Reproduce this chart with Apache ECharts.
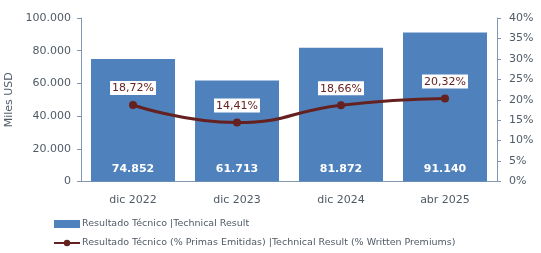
<!DOCTYPE html>
<html>
<head>
<meta charset="utf-8">
<script src="https://cdn.jsdelivr.net/npm/echarts@6/dist/echarts.min.js"></script>
<style>
html, body { margin: 0; padding: 0; background: #fff; }
#chart { width: 541px; height: 253px; }
</style>
</head>
<body>
<div id="chart"></div>
<script>
// datos
var categorias = ['dic 2022', 'dic 2023', 'dic 2024', 'abr 2025'];
var resultado = [74852, 61713, 81872, 91140];
var porcentaje = [18.72, 14.41, 18.66, 20.32];

function miles(v) {
    return String(v).replace(/\B(?=(\d{3})+(?!\d))/g, '.');
}

var fuente = 'DejaVu Sans';
var gris = '#505a66';
var ejeColor = '#8497B0';

var myChart = echarts.init(document.getElementById('chart'));
var option = {
    animation: false,
    textStyle: { fontFamily: fuente },
    grid: { left: 81, right: 44, top: 18, bottom: 71.5, outerBoundsMode: 'none' },
    legend: {
        orient: 'vertical',
        left: 53,
        top: 219,
        padding: 0,
        itemGap: 9,
        itemWidth: 26,
        itemHeight: 8,
        textStyle: { fontFamily: fuente, fontSize: 9.5, color: gris, padding: [0, 0, 0, -3] },
        data: [
            { name: 'Resultado Técnico |Technical Result', icon: 'rect' },
            { name: 'Resultado Técnico (% Primas Emitidas) |Technical Result (% Written Premiums)' }
        ]
    },
    xAxis: {
        type: 'category',
        data: categorias,
        axisLine: { lineStyle: { color: ejeColor } },
        axisTick: { show: false },
        axisLabel: { color: gris, fontSize: 11, margin: 13 }
    },
    yAxis: [{
        type: 'value',
        min: 0, max: 100000, interval: 20000,
        name: 'Miles USD',
        nameLocation: 'middle',
        nameGap: 59,
        nameTextStyle: { color: gris, fontSize: 11 },
        axisLine: { show: true, lineStyle: { color: ejeColor } },
        axisTick: { show: true, length: 4, lineStyle: { color: ejeColor } },
        splitLine: { show: false },
        axisLabel: { color: gris, fontSize: 11, margin: 10, formatter: function (v) { return miles(v); } }
    }, {
        type: 'value',
        min: 0, max: 40, interval: 5,
        axisLine: { show: true, lineStyle: { color: ejeColor } },
        axisTick: { show: true, length: 4, lineStyle: { color: ejeColor } },
        splitLine: { show: false },
        axisLabel: { color: gris, fontSize: 11, margin: 12, formatter: '{value}%' }
    }],
    series: [{
        name: 'Resultado Técnico |Technical Result',
        type: 'bar',
        data: resultado,
        barWidth: 84,
        itemStyle: { color: '#4F81BD' },
        label: {
            show: true,
            position: 'insideBottom',
            distance: 7,
            color: '#fff',
            fontWeight: 'bold',
            fontSize: 11,
            formatter: function (p) { return miles(p.value); }
        }
    }, {
        name: 'Resultado Técnico (% Primas Emitidas) |Technical Result (% Written Premiums)',
        type: 'line',
        yAxisIndex: 1,
        smooth: true,
        data: porcentaje,
        symbol: 'circle',
        symbolSize: 8,
        itemStyle: { color: '#65211f' },
        lineStyle: { color: '#65211f', width: 3 },
        label: {
            show: true,
            position: 'top',
            distance: 6,
            color: '#65211f',
            fontSize: 11,
            backgroundColor: '#fff',
            padding: [2, 2, 1, 2],
            formatter: function (p) { return p.value.toFixed(2).replace('.', ',') + '%'; }
        }
    }]
};
myChart.setOption(option);
</script>
</body>
</html>
